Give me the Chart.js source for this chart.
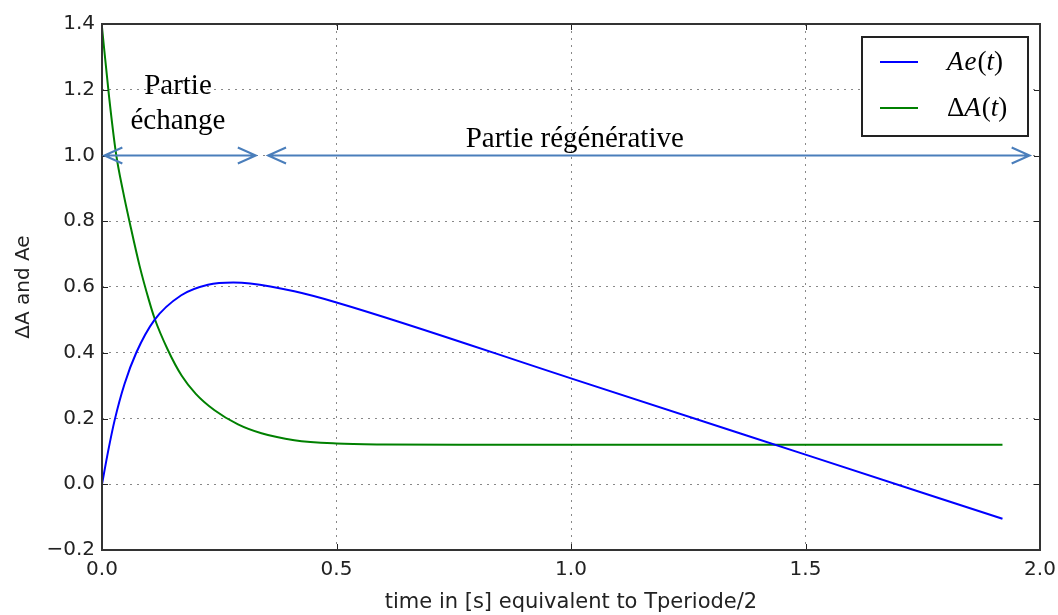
<!DOCTYPE html>
<html>
<head>
<meta charset="utf-8">
<script src="https://cdn.jsdelivr.net/npm/chart.js@4/dist/chart.umd.min.js"></script>
<style>
  html, body { margin: 0; padding: 0; background: #fff; }
  #wrap { width: 1058px; height: 615px; }
</style>
</head>
<body>
<div id="wrap"><canvas id="chart" width="1058" height="615"></canvas></div>
<script>
// values
const aeTime = [0, 0.013, 0.027, 0.048, 0.073, 0.112, 0.169, 0.226, 0.28, 0.316, 0.41, 0.5, 1.0, 1.5, 1.92];
const aeValues = [0, 0.10, 0.195, 0.305, 0.40, 0.50, 0.575, 0.607, 0.614, 0.611, 0.587, 0.553, 0.322, 0.09, -0.105];

const dTime = [0, 0.015, 0.03, 0.045, 0.06, 0.08, 0.1, 0.112, 0.14, 0.17, 0.2, 0.24, 0.29, 0.34, 0.41, 0.5, 0.6, 0.8, 1.0, 1.5, 1.92];
const dValues = [1.39, 1.18, 1.005, 0.89, 0.79, 0.665, 0.56, 0.505, 0.41, 0.33, 0.275, 0.225, 0.182, 0.155, 0.134, 0.124, 0.121, 0.12, 0.12, 0.12, 0.12];

const xTicks = [0, 0.5, 1.0, 1.5, 2.0];
const yTicks = [-0.2, 0, 0.2, 0.4, 0.6, 0.8, 1.0, 1.2, 1.4];

const seriesNames = ['Ae(t)', 'ΔA(t)'];
const seriesColors = ['#0000ff', '#008000'];

const arrowColor = '#4a7ebb';
const tickFont = { family: 'DejaVu Sans', size: 20 };

const toPoints = (xs, ys) => xs.map((x, i) => ({ x, y: ys[i] }));

// frame, inner tick marks, arrows, texts, legend
const decorations = {
  id: 'decorations',
  afterDatasetsDraw(chart) {
    const { ctx, chartArea: a, scales: { x, y } } = chart;
    ctx.save();

    // inner tick marks
    ctx.strokeStyle = '#222';
    ctx.lineWidth = 1;
    xTicks.forEach(v => {
      const px = Math.round(x.getPixelForValue(v)) + 0.5;
      ctx.beginPath();
      ctx.moveTo(px, a.bottom); ctx.lineTo(px, a.bottom - 6);
      ctx.moveTo(px, a.top); ctx.lineTo(px, a.top + 6);
      ctx.stroke();
    });
    yTicks.forEach(v => {
      const py = Math.round(y.getPixelForValue(v)) + 0.5;
      ctx.beginPath();
      ctx.moveTo(a.left, py); ctx.lineTo(a.left + 6, py);
      ctx.moveTo(a.right, py); ctx.lineTo(a.right - 6, py);
      ctx.stroke();
    });

    // frame
    ctx.strokeStyle = '#333';
    ctx.lineWidth = 2;
    ctx.strokeRect(a.left, a.top, a.right - a.left, a.bottom - a.top);

    // double arrows at y = 1.0
    const arrow = (x0, x1, yv) => {
      const p0 = x.getPixelForValue(x0), p1 = x.getPixelForValue(x1), py = y.getPixelForValue(yv);
      ctx.strokeStyle = arrowColor;
      ctx.lineWidth = 2;
      ctx.beginPath();
      ctx.moveTo(p0, py); ctx.lineTo(p1, py);
      ctx.moveTo(p0 + 18, py - 8); ctx.lineTo(p0, py); ctx.lineTo(p0 + 18, py + 8);
      ctx.moveTo(p1 - 18, py - 8); ctx.lineTo(p1, py); ctx.lineTo(p1 - 18, py + 8);
      ctx.stroke();
    };
    arrow(0.005, 0.328, 1.0);
    arrow(0.354, 1.978, 1.0);

    // annotation texts
    ctx.fillStyle = '#000';
    ctx.font = '29px "Liberation Serif"';
    ctx.textAlign = 'center';
    ctx.textBaseline = 'middle';
    ctx.fillText('Partie', x.getPixelForValue(0.162), y.getPixelForValue(1.21));
    ctx.fillText('échange', x.getPixelForValue(0.162), y.getPixelForValue(1.105));
    ctx.fillText('Partie régénérative', x.getPixelForValue(1.008), y.getPixelForValue(1.05));

    // legend box
    const lx = 862, ly = 37, lw = 166, lh = 99;
    ctx.fillStyle = '#fff';
    ctx.fillRect(lx, ly, lw, lh);
    ctx.strokeStyle = '#222';
    ctx.lineWidth = 2;
    ctx.strokeRect(lx, ly, lw, lh);
    ctx.textAlign = 'left';
    const rows = [ly + 25, ly + 71];
    seriesNames.forEach((name, i) => {
      ctx.strokeStyle = seriesColors[i];
      ctx.lineWidth = 2;
      ctx.beginPath();
      ctx.moveTo(lx + 18, rows[i]); ctx.lineTo(lx + 56, rows[i]);
      ctx.stroke();
      ctx.fillStyle = '#000';
      let tx = lx + 85;
      // math-style text: letters italic, symbols upright
      for (const ch of name) {
        ctx.font = /[A-Za-z]/.test(ch) ? 'italic 27px "Liberation Serif"' : '27px "Liberation Serif"';
        ctx.fillText(ch, tx, rows[i] + 1);
        tx += ctx.measureText(ch).width + (ch === 'A' || ch === 'e' ? 1 : 0);
      }
    });
    ctx.restore();
  }
};

new Chart(document.getElementById('chart'), {
  type: 'line',
  data: {
    datasets: [
      { label: seriesNames[0], data: toPoints(aeTime, aeValues), borderColor: seriesColors[0], borderWidth: 2, pointRadius: 0, cubicInterpolationMode: 'monotone', fill: false },
      { label: seriesNames[1], data: toPoints(dTime, dValues), borderColor: seriesColors[1], borderWidth: 2, pointRadius: 0, cubicInterpolationMode: 'monotone', fill: false }
    ]
  },
  options: {
    responsive: false,
    animation: false,
    layout: { autoPadding: false, padding: { left: 0, right: 18, top: 24, bottom: 0 } },
    plugins: {
      legend: { display: false },
      tooltip: { enabled: false }
    },
    scales: {
      x: {
        type: 'linear',
        min: 0, max: 2,
        afterBuildTicks: s => { s.ticks = xTicks.map(v => ({ value: v })); },
        ticks: { font: tickFont, color: '#222', padding: 8, maxRotation: 0, callback: v => v.toFixed(1) },
        grid: { color: '#888', lineWidth: 1, drawTicks: false },
        border: { display: false, dash: [2, 5] },
        title: { display: true, text: 'time in [s] equivalent to Tperiode/2', font: { family: 'DejaVu Sans', size: 21 }, color: '#222', padding: { top: 4, bottom: 0 } },
        afterFit: s => { s.height = 65; s.paddingLeft = 0; s.paddingRight = 0; }
      },
      y: {
        min: -0.2, max: 1.4,
        afterBuildTicks: s => { s.ticks = yTicks.map(v => ({ value: v })); },
        ticks: { font: tickFont, color: '#222', padding: 7, callback: v => (v < 0 ? '\u2212' : '') + Math.abs(v).toFixed(1) },
        grid: { color: '#888', lineWidth: 1, drawTicks: false },
        border: { display: false, dash: [2, 5] },
        title: { display: true, text: 'ΔA and Ae', font: tickFont, color: '#222', padding: { top: 12, bottom: 4 } },
        afterFit: s => { s.width = 102; s.paddingTop = 0; s.paddingBottom = 0; }
      }
    }
  },
  plugins: [decorations]
});
</script>
</body>
</html>
